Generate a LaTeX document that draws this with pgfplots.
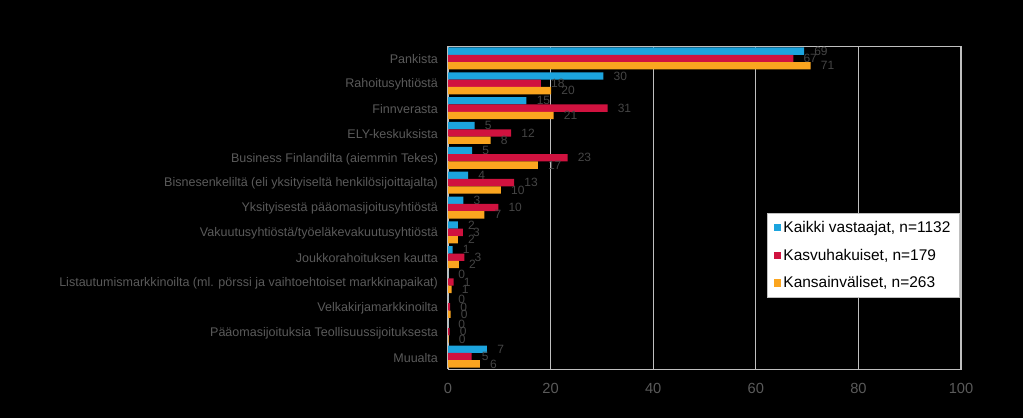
\documentclass[border=0pt]{standalone}
\usepackage{pgfplots}
\usepackage{pgfplotstable}
\usepackage{fontspec}
\setmainfont{Liberation Sans}
\pgfplotsset{compat=1.18}

\definecolor{cblue}{HTML}{1CA4DE}
\definecolor{cred}{HTML}{D0123F}
\definecolor{corange}{HTML}{FBA51F}
\definecolor{txtgray}{HTML}{5A5A5A}
\definecolor{lblgray}{HTML}{454545}
\definecolor{gridgray}{HTML}{BFBFBF}

% y = category index (0 = top), a = kaikki, b = kasvuhakuiset, c = kansainväliset
\pgfplotstableread{
y a    alab b    blab c    clab
0 69.4 69   67.3 67   70.7 71
1 30.3 30   18.1 18   20.1 20
2 15.3 15   31.1 31   20.6 21
3 5.2  5    12.3 12   8.3  8
4 4.7  5    23.3 23   17.5 17
5 3.9  4    12.9 13   10.3 10
6 3.0  3    9.8  10   7.1  7
7 1.9  2    2.9  3    1.9  2
8 0.9  1    3.2  3    2.1  2
9 0.0  0    1.1  1    0.7  1
10 0.0 0    0.4  0    0.5  0
11 0.0 0    0.3  0    0.1  0
12 7.6 7    4.6  5    6.2  6
}\rahoitus

\begin{document}
\begin{tikzpicture}
\fill[black] (0,0) rectangle (767.25pt,313.5pt);
\begin{axis}[
    at={(336pt,36.75pt)}, anchor=south west,
    scale only axis,
    width=384.75pt, height=242.25pt,
    xbar, bar width=5.5pt,
    xmin=0, xmax=100,
    xtick={0,20,40,60,80,100},
    ymin=-0.5, ymax=12.5,
    y dir=reverse,
    ytick={0,...,12},
    yticklabels={Pankista, Rahoitusyhtiöstä, Finnverasta, ELY-keskuksista,
        Business Finlandilta (aiemmin Tekes),
        Bisnesenkeliltä (eli yksityiseltä henkilösijoittajalta),
        Yksityisestä pääomasijoitusyhtiöstä,
        Vakuutusyhtiöstä/työeläkevakuutusyhtiöstä,
        Joukkorahoituksen kautta,
        Listautumismarkkinoilta (ml. pörssi ja vaihtoehtoiset markkinapaikat),
        Velkakirjamarkkinoilta,
        Pääomasijoituksia Teollisuussijoituksesta,
        Muualta},
    major tick length=0pt,
    axis line style={gridgray},
    xmajorgrids, grid style={gridgray, line width=0.8pt},
    /pgf/number format/assume math mode=true,
    x tick label style={font=\fontsize{11}{13}\selectfont, text=txtgray, yshift=-7pt},
    y tick label style={font=\fontsize{9.4}{11}\selectfont, text=txtgray, xshift=-4pt, yshift=-0.8pt},
    clip=false,
    nodes near coords,
    point meta=explicit symbolic,
    every node near coord/.append style={font=\fontsize{9}{10}\selectfont, text=lblgray, anchor=west, inner sep=0pt, xshift=7.5pt},
    legend cell align=left,
    legend style={at={(0.998,0.483)}, anchor=north east, fill=white, draw=gridgray,
        font=\fontsize{11.6}{13}\selectfont, text=black, row sep=6.8pt,
        inner xsep=5pt, inner ysep=4pt},
    legend image code/.code={\fill[#1, draw=none] (0pt,-2.7pt) rectangle (5.4pt,2.7pt);},
]
\addplot[fill=cblue, draw=none, bar shift=5.5pt] table[x=a, y=y, meta=alab] {\rahoitus};
\addlegendentry{Kaikki vastaajat, n=1132}
\addplot[fill=cred, draw=none, bar shift=0pt] table[x=b, y=y, meta=blab] {\rahoitus};
\addlegendentry{Kasvuhakuiset, n=179}
\addplot[fill=corange, draw=none, bar shift=-5.5pt] table[x=c, y=y, meta=clab] {\rahoitus};
\addlegendentry{Kansainväliset, n=263}
\end{axis}
\end{tikzpicture}
\end{document}
